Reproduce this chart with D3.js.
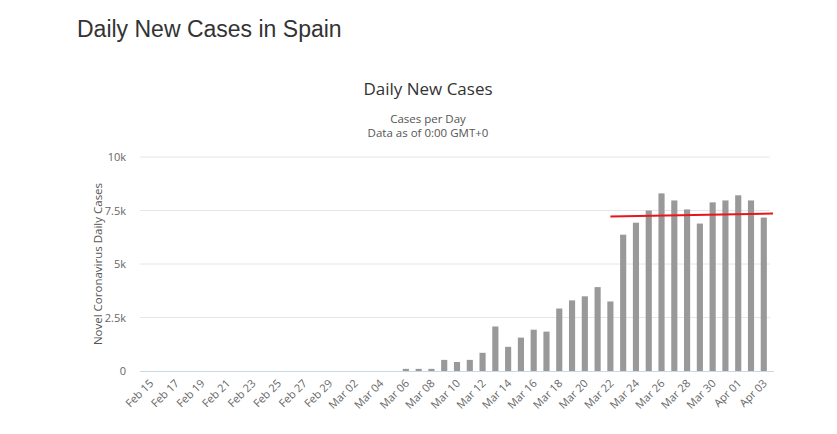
<!DOCTYPE html>
<html><head><meta charset="utf-8">
<script src="https://cdn.jsdelivr.net/npm/d3@7"></script>
<style>body{margin:0;background:#fff;font-family:"Open Sans",Arial,sans-serif}</style>
</head><body><svg id="c" width="837" height="434"></svg>
<script>
// dates Feb 15 .. Apr 03
const dates = []
for (let d = new Date(2020, 1, 15); d <= new Date(2020, 3, 3); d.setDate(d.getDate() + 1)) dates.push(new Date(d))
const cases = [0,0,0,0,0,0,0,0,0,0,0,0,0,0,0,
  0,0,0,0,0,100,100,100,520,420,520,850,2080,1130,1560,1930,1840,2920,3300,3490,3920,3250,
  6370,6930,7500,8300,7970,7550,6890,7880,7970,8210,7970,7170]
const trendStart = [new Date(2020, 2, 22), 7220]
const trendEnd = [null, 7360]
const yTicks = [0, 2500, 5000, 7500, 10000]

const fmt = d3.timeFormat("%b %d")
const svg = d3.select("#c")
svg.append("text").attr("x", 77).attr("y", 37).attr("font-size", 23).attr("fill", "#333")
  .attr("font-family", "Arial, Liberation Sans, sans-serif").text("Daily New Cases in Spain")
svg.append("text").attr("x", 428).attr("y", 95).attr("text-anchor", "middle").attr("font-size", 17).attr("fill", "#333").text("Daily New Cases")
svg.append("text").attr("x", 428).attr("y", 123).attr("text-anchor", "middle").attr("font-size", 11.5).attr("fill", "#555").text("Cases per Day")
svg.append("text").attr("x", 428).attr("y", 137).attr("text-anchor", "middle").attr("font-size", 11.5).attr("fill", "#555").text("Data as of 0:00 GMT+0")

const x = d3.scaleBand().domain(dates.map(fmt)).range([140.5, 773.5]).padding(0.52)
const y = d3.scaleLinear().domain([0, 10000]).range([371, 157])

// grid + y labels
const g = svg.append("g")
g.selectAll("line.grid").data(yTicks.slice(1)).enter().append("line")
  .attr("x1", 140).attr("x2", 770).attr("y1", d => y(d)).attr("y2", d => y(d))
  .attr("stroke", "#e6e6e6")
g.selectAll("text.yl").data(yTicks).enter().append("text")
  .attr("x", 126).attr("y", d => y(d) + 4).attr("text-anchor", "end").attr("font-size", 11).attr("fill", "#666")
  .text(d => d === 0 ? "0" : (d / 1000) + "k")
svg.append("text").attr("transform", "translate(102,264)rotate(-90)").attr("text-anchor", "middle")
  .attr("font-size", 11.5).attr("fill", "#555").text("Novel Coronavirus Daily Cases")

// bars
svg.append("g").selectAll("rect").data(cases).enter().append("rect")
  .attr("x", (d, i) => x(fmt(dates[i]))).attr("width", x.bandwidth())
  .attr("y", d => y(d)).attr("height", d => 371 - y(d)).attr("fill", "#999")

// x axis
svg.append("line").attr("x1", 140).attr("x2", 774).attr("y1", 371.5).attr("y2", 371.5).attr("stroke", "#ccd6eb")
svg.append("g").selectAll("text").data(dates.filter((d, i) => i % 2 === 0)).enter().append("text")
  .attr("transform", d => `translate(${x(fmt(d)) + x.bandwidth() / 2 + 4},${384})rotate(-45)`)
  .attr("text-anchor", "end").attr("font-size", 11).attr("fill", "#666").text(fmt)

// trend line
const x0 = x(fmt(trendStart[0])) + x.bandwidth() / 2
svg.append("line").attr("x1", x0).attr("x2", 773).attr("y1", y(trendStart[1])).attr("y2", y(trendEnd[1]))
  .attr("stroke", "#e8151b").attr("stroke-width", 2)
</script></body></html>
